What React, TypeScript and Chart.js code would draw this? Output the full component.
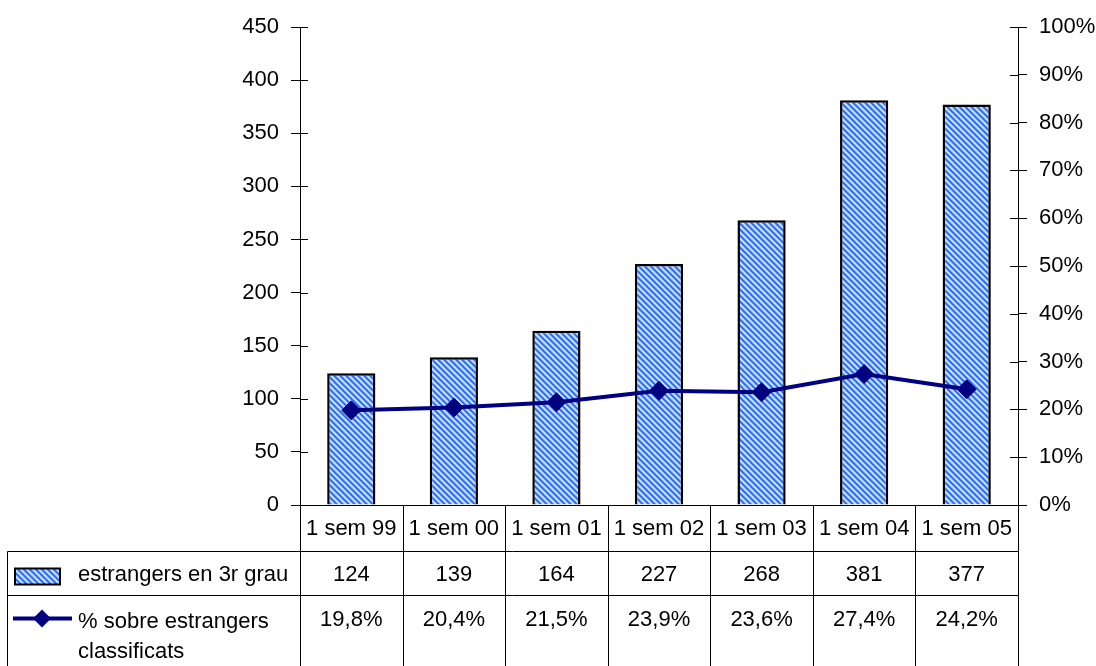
import React, { useEffect, useRef } from "react";
import { Chart, registerables } from "chart.js";

Chart.register(...registerables);

const categories = ["1 sem 99", "1 sem 00", "1 sem 01", "1 sem 02", "1 sem 03", "1 sem 04", "1 sem 05"];
const foreignersThirdGrade = [124, 139, 164, 227, 268, 381, 377];
const percentOfClassified = [19.8, 20.4, 21.5, 23.9, 23.6, 27.4, 24.2];
const barSeriesName = "estrangers en 3r grau";
const lineSeriesNameLines = ["% sobre estrangers", "classificats"];

const FONT = '"Liberation Sans", Arial, sans-serif';
const FONT_SIZE = 22;

function makePattern(): CanvasPattern | string {
  const c = document.createElement("canvas");
  c.width = 6;
  c.height = 6;
  const g = c.getContext("2d");
  if (!g) return "#6f9cff";
  for (let y = 0; y < 6; y++) {
    for (let x = 0; x < 6; x++) {
      const d = (((x - y) % 6) + 6) % 6;
      let col = "#c4e0ff";
      if (d === 0 || d === 1) col = "#3366ff";
      else if (d === 2 || d === 5) col = "#7aaeff";
      g.fillStyle = col;
      g.fillRect(x, y, 1, 1);
    }
  }
  const p = g.createPattern(c, "repeat");
  return p || "#6f9cff";
}

const fmtPct = (v: number) => v.toFixed(1).replace(".", ",") + "%";

export default function App() {
  const ref = useRef<HTMLCanvasElement | null>(null);

  useEffect(() => {
    if (!ref.current) return;
    const pattern = makePattern();

    const tablePlugin = {
      id: "dataTable",
      afterDraw(chart: any) {
        const ctx: CanvasRenderingContext2D = chart.ctx;
        const ya = chart.scales.y;
        const yb = chart.scales.y1;
        const { left, right, bottom } = chart.chartArea;
        const H = chart.height;
        ctx.save();
        ctx.strokeStyle = "#000";
        ctx.lineWidth = 1;
        const line = (x1: number, y1: number, x2: number, y2: number) => {
          ctx.beginPath();
          ctx.moveTo(x1, y1);
          ctx.lineTo(x2, y2);
          ctx.stroke();
        };
        // inner halves of the crossing ticks
        ya.ticks.forEach((_t: any, i: number) => {
          const y = Math.round(ya.getPixelForTick(i)) + 0.5;
          line(left, y, left + 8, y);
        });
        yb.ticks.forEach((_t: any, i: number) => {
          const y = Math.round(yb.getPixelForTick(i)) + 0.5;
          line(right - 8, y, right, y);
        });

        const n = categories.length;
        const colW = (right - left) / n;
        const tableLeft = 7.5;
        const yHead = Math.round(bottom) + 0.5;
        const yRow1 = yHead + 46;
        const yRow2 = yRow1 + 44;

        // horizontal lines
        line(left, yHead, right, yHead);
        line(tableLeft, yRow1, right, yRow1);
        line(tableLeft, yRow2, right, yRow2);
        // vertical lines
        for (let i = 0; i <= n; i++) {
          const x = Math.round(left + i * colW) + 0.5;
          line(x, yHead, x, H);
        }
        line(tableLeft, yRow1, tableLeft, H);

        ctx.fillStyle = "#000";
        ctx.font = `${FONT_SIZE}px ${FONT}`;
        ctx.textAlign = "center";
        ctx.textBaseline = "middle";
        for (let i = 0; i < n; i++) {
          const cx = left + (i + 0.5) * colW;
          ctx.fillText(categories[i], cx, yHead + 23);
          ctx.fillText(String(foreignersThirdGrade[i]), cx, yRow1 + 23);
          ctx.fillText(fmtPct(percentOfClassified[i]), cx, yRow2 + 24);
        }

        // row headers
        ctx.textAlign = "left";
        ctx.fillText(barSeriesName, 78, yRow1 + 23);
        ctx.fillText(lineSeriesNameLines[0], 78, yRow2 + 26);
        ctx.fillText(lineSeriesNameLines[1], 78, yRow2 + 56);

        // legend keys
        ctx.fillStyle = pattern as any;
        ctx.fillRect(15, yRow1 + 17, 45, 16);
        ctx.lineWidth = 2;
        ctx.strokeStyle = "#000";
        ctx.strokeRect(15, yRow1 + 17, 45, 16);

        const ky = yRow2 + 23;
        ctx.strokeStyle = "#000080";
        ctx.lineWidth = 4;
        ctx.beginPath();
        ctx.moveTo(13, ky);
        ctx.lineTo(72, ky);
        ctx.stroke();
        ctx.fillStyle = "#000080";
        ctx.beginPath();
        ctx.moveTo(42, ky - 9);
        ctx.lineTo(51, ky);
        ctx.lineTo(42, ky + 9);
        ctx.lineTo(33, ky);
        ctx.closePath();
        ctx.fill();
        ctx.restore();
      },
    };

    Chart.defaults.color = "#000";
    Chart.defaults.font.family = FONT;
    Chart.defaults.font.size = FONT_SIZE;

    const chart = new Chart(ref.current, {
      type: "bar",
      data: {
        labels: categories,
        datasets: [
          {
            type: "line",
            label: lineSeriesNameLines.join(" "),
            data: percentOfClassified,
            yAxisID: "y1",
            borderColor: "#000080",
            backgroundColor: "#000080",
            borderWidth: 4,
            pointStyle: "rectRot",
            pointRadius: 9.5,
            pointBorderWidth: 1,
            pointBackgroundColor: "#000080",
            pointBorderColor: "#000080",
            order: 0,
          },
          {
            type: "bar",
            label: barSeriesName,
            data: foreignersThirdGrade,
            yAxisID: "y",
            backgroundColor: pattern as any,
            borderColor: "#000",
            borderWidth: 2.5,
            categoryPercentage: 1,
            barPercentage: 0.47,
            order: 1,
          },
        ],
      },
      options: {
        responsive: false,
        animation: false,
        devicePixelRatio: 1,
        layout: { padding: { left: 0, right: 0, top: 27, bottom: 161 } },
        plugins: { legend: { display: false }, tooltip: { enabled: false } },
        scales: {
          x: { display: false },
          y: {
            position: "left",
            min: 0,
            max: 450,
            ticks: { stepSize: 50, padding: 12, color: "#000" },
            grid: { drawOnChartArea: false, drawTicks: true, tickLength: 9, color: "#000" },
            border: { display: true, color: "#000", width: 1 },
            afterFit: (s: any) => {
              s.width = 300;
            },
          },
          y1: {
            position: "right",
            min: 0,
            max: 100,
            ticks: { stepSize: 10, padding: 12, color: "#000", callback: (v: any) => v + "%" },
            grid: { drawOnChartArea: false, drawTicks: true, tickLength: 9, color: "#000" },
            border: { display: true, color: "#000", width: 1 },
            afterFit: (s: any) => {
              s.width = 78;
            },
          },
        },
      },
      plugins: [tablePlugin],
    } as any);

    return () => chart.destroy();
  }, []);

  return (
    <div style={{ position: "absolute", left: 0, top: 0, width: 1096, height: 666, background: "#fff" }}>
      <canvas ref={ref} width={1096} height={666} style={{ display: "block" }} />
    </div>
  );
}
